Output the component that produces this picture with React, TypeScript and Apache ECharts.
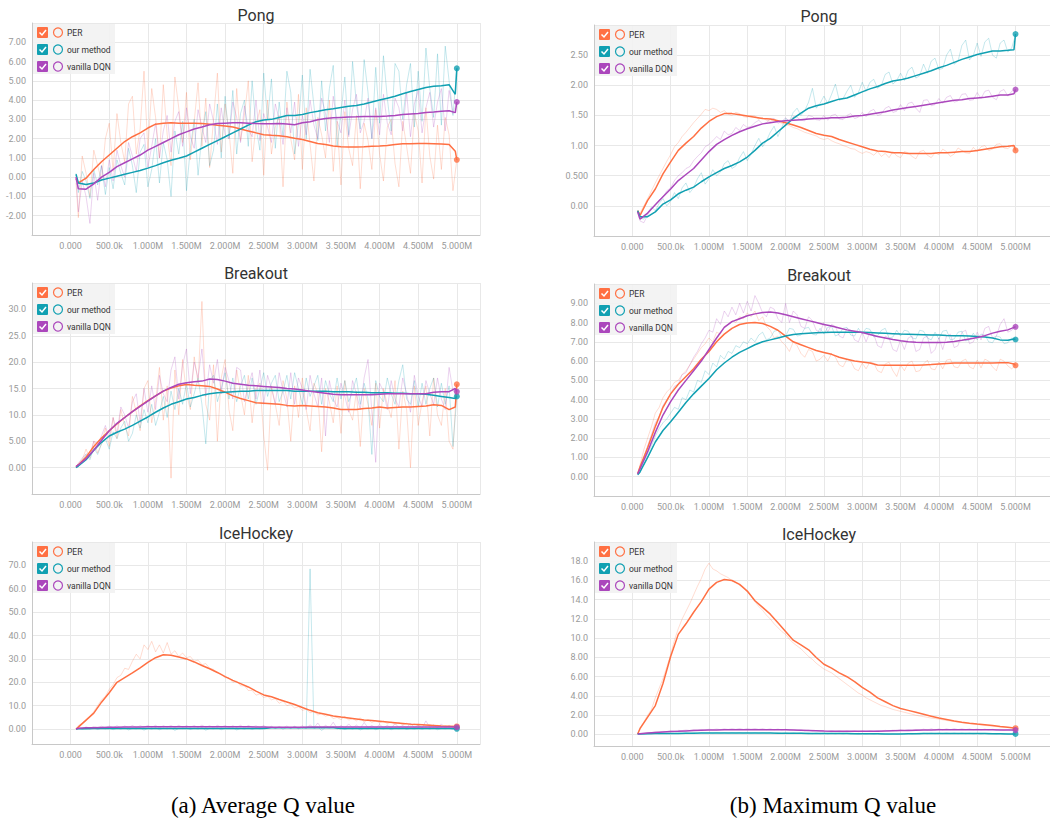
import React, { useEffect, useRef } from 'react';
import * as echarts from 'echarts';

const SERIES_NAMES = ['PER', 'our method', 'vanilla DQN'];
const COLORS = ['#ff7043', '#11a0b2', '#ab47bc'];

const X_TICKS = [0, 500000, 1000000, 1500000, 2000000, 2500000, 3000000, 3500000, 4000000, 4500000, 5000000];
const X_TICK_LABELS = ['0.000', '500.0k', '1.000M', '1.500M', '2.000M', '2.500M', '3.000M', '3.500M', '4.000M', '4.500M', '5.000M'];

const PONG_AVG_Y_TICKS = [-2, -1, 0, 1, 2, 3, 4, 5, 6, 7];
const PONG_AVG_Y_LABELS = ['-2.00', '-1.00', '0.00', '1.00', '2.00', '3.00', '4.00', '5.00', '6.00', '7.00'];
const PONG_MAX_Y_TICKS = [0, 0.5, 1, 1.5, 2, 2.5];
const PONG_MAX_Y_LABELS = ['0.00', '0.500', '1.00', '1.50', '2.00', '2.50'];
const BREAKOUT_AVG_Y_TICKS = [0, 5, 10, 15, 20, 25, 30];
const BREAKOUT_AVG_Y_LABELS = ['0.00', '5.00', '10.0', '15.0', '20.0', '25.0', '30.0'];
const BREAKOUT_MAX_Y_TICKS = [0, 1, 2, 3, 4, 5, 6, 7, 8, 9];
const BREAKOUT_MAX_Y_LABELS = ['0.00', '1.00', '2.00', '3.00', '4.00', '5.00', '6.00', '7.00', '8.00', '9.00'];
const ICE_AVG_Y_TICKS = [0, 10, 20, 30, 40, 50, 60, 70];
const ICE_AVG_Y_LABELS = ['0.00', '10.0', '20.0', '30.0', '40.0', '50.0', '60.0', '70.0'];
const ICE_MAX_Y_TICKS = [0, 2, 4, 6, 8, 10, 12, 14, 16, 18];
const ICE_MAX_Y_LABELS = ['0.00', '2.00', '4.00', '6.00', '8.00', '10.0', '12.0', '14.0', '16.0', '18.0'];

// training steps (thousands) of the smoothed curves
const SMOOTH_STEPS_K = [70,
  100, 200, 300, 400, 500, 600, 700, 800, 900, 1000,
  1100, 1200, 1300, 1400, 1500, 1600, 1700, 1800, 1900, 2000,
  2100, 2200, 2300, 2400, 2500, 2600, 2700, 2800, 2900, 3000,
  3100, 3200, 3300, 3400, 3500, 3600, 3700, 3800, 3900, 4000,
  4100, 4200, 4300, 4400, 4500, 4600, 4700, 4800, 4900, 4980, 5000];
// raw logging steps (thousands): 70, then every 50k from 100k to 5000k
const RAW_STEPS_K = [70].concat(Array.from({ length: 99 }, (_, i) => 100 + 50 * i));

// ---------- Pong, average Q ----------
const PONG_AVG_PER = [-0.1, -0.3, -0.05, 0.4, 0.8, 1.15, 1.5, 1.85, 2.1, 2.3, 2.55,
  2.75, 2.8, 2.82, 2.8, 2.8, 2.8, 2.78, 2.75, 2.7, 2.66,
  2.6, 2.5, 2.4, 2.3, 2.2, 2.17, 2.15, 2.1, 2.02, 1.95,
  1.85, 1.75, 1.7, 1.62, 1.58, 1.57, 1.57, 1.58, 1.6, 1.62,
  1.65, 1.7, 1.73, 1.74, 1.75, 1.75, 1.74, 1.72, 1.7, 1.35, 0.9];
const PONG_AVG_OURS = [0.15, -0.3, -0.38, -0.3, -0.15, -0.05, 0.05, 0.15, 0.25, 0.35, 0.47,
  0.6, 0.75, 0.88, 0.98, 1.1, 1.3, 1.5, 1.7, 1.9, 2.1,
  2.3, 2.5, 2.7, 2.88, 2.97, 3.0, 3.1, 3.2, 3.2, 3.25,
  3.35, 3.42, 3.5, 3.55, 3.62, 3.68, 3.72, 3.8, 3.9, 4.0,
  4.1, 4.2, 4.33, 4.45, 4.55, 4.65, 4.72, 4.75, 4.8, 4.3, 5.65];
const PONG_AVG_DQN = [0.0, -0.6, -0.62, -0.35, 0.0, 0.25, 0.55, 0.75, 0.95, 1.15, 1.4,
  1.6, 1.8, 2.0, 2.2, 2.35, 2.5, 2.6, 2.72, 2.78, 2.8,
  2.82, 2.82, 2.8, 2.78, 2.77, 2.77, 2.78, 2.76, 2.72, 2.82,
  2.88, 2.98, 3.05, 3.08, 3.1, 3.12, 3.13, 3.15, 3.15, 3.15,
  3.17, 3.2, 3.25, 3.28, 3.3, 3.35, 3.38, 3.42, 3.45, 3.35, 3.9];
const PONG_AVG_PER_RAW = [
  -0.3, -2.1, 1.1, 0.2, -1.0, 1.4, 0.6, -0.2, 2.0, 2.8,
  0.3, 3.3, 1.8, 0.8, 3.8, 4.2, 1.2, 2.5, 5.5, 1.4,
  4.6, 3.1, 1.0, 4.8, 2.2, 0.6, 5.2, 3.6, 1.8, 4.4,
  0.9, 2.9, 4.9, 1.6, 4.1, 0.5, 3.0, 5.4, 1.3, 3.8,
  2.4, 0.2, 4.6, 1.9, 3.2, 5.0, 0.8, 2.7, 3.5, 0.1,
  4.0, 1.2, 2.6, 3.2, -0.5, 3.9, 2.0, 0.9, 4.3, 0.4,
  3.6, 1.7, -0.2, 3.1, 2.2, 1.0, 4.0, 0.3, 2.9, -0.4,
  3.4, 1.5, 0.6, 3.2, -0.6, 2.8, 1.9, 0.4, 3.5, 1.2,
  -0.2, 2.6, 3.0, 0.7, -0.5, 2.9, 1.6, 0.2, 3.3, 2.4,
  -0.3, 3.6, 1.1, -0.1, 2.7, 0.4, 3.1, 2.2, -0.7, 0.9];
const PONG_AVG_OURS_RAW = [
  0.2, -0.8, 0.3, -0.2, -1.1, 0.4, -0.4, 0.6, -0.9, 0.5,
  -0.6, 0.9, 0.2, -0.4, 1.5, 0.6, -0.8, 1.3, 1.7, -0.5,
  0.4, 2.0, -0.3, 1.8, 0.9, -1.0, 2.4, 1.2, 2.9, -0.7,
  1.5, 3.0, 0.1, 2.2, 3.4, 0.6, 1.4, 3.8, 1.0, 4.2,
  2.0, 4.5, 1.2, 3.3, 4.0, 1.6, 5.0, 2.6, 1.4, 5.4,
  3.0, 5.1, 1.5, 3.9, 2.1, 5.5, 4.4, 1.2, 2.8, 5.3,
  2.0, 5.6, 3.7, 1.9, 5.0, 2.4, 4.6, 5.8, 1.6, 3.3,
  5.2, 2.2, 6.0, 3.8, 2.5, 6.1, 4.4, 2.0, 5.7, 2.8,
  6.3, 4.1, 2.4, 5.9, 5.5, 3.0, 4.8, 5.9, 2.6, 5.5,
  2.9, 6.7, 4.6, 3.1, 6.4, 2.7, 6.8, 5.0, 3.2, 5.65];
const PONG_AVG_DQN_RAW = [
  0.0, -1.8, -0.2, -1.0, -2.4, 0.2, -1.2, 0.6, -0.5, 0.9,
  -0.2, 1.4, 0.6, 0.0, 1.8, 1.1, 0.3, 2.0, 2.3, 0.5,
  1.6, 2.8, 1.0, 2.4, 3.2, 1.3, 2.9, 3.4, 1.6, 3.6,
  2.1, 1.5, 3.5, 2.6, 1.8, 3.8, 2.9, 1.7, 3.6, 2.2,
  2.0, 3.9, 3.1, 1.8, 3.7, 2.5, 2.1, 4.0, 1.9, 3.3,
  2.6, 1.8, 3.8, 3.0, 1.7, 3.6, 2.3, 3.9, 1.6, 3.2,
  2.2, 4.0, 2.7, 2.0, 4.1, 3.3, 1.8, 4.2, 2.9, 2.3,
  4.0, 2.1, 3.5, 4.3, 2.3, 2.9, 4.1, 2.0, 3.6, 2.2,
  4.3, 2.8, 2.2, 4.1, 3.6, 2.4, 4.4, 2.1, 3.8, 4.5,
  2.3, 3.6, 4.4, 2.6, 3.9, 4.6, 2.4, 4.5, 3.3, 3.9];

// ---------- Pong, maximum Q ----------
const PONG_MAX_PER = [-0.08, -0.16, 0.09, 0.28, 0.53, 0.73, 0.92, 1.04, 1.15, 1.29, 1.4,
  1.48, 1.53, 1.53, 1.51, 1.49, 1.47, 1.45, 1.44, 1.41, 1.38,
  1.34, 1.3, 1.25, 1.2, 1.17, 1.15, 1.1, 1.06, 1.02, 0.98,
  0.94, 0.91, 0.9, 0.88, 0.88, 0.87, 0.87, 0.87, 0.87, 0.88,
  0.88, 0.89, 0.9, 0.9, 0.92, 0.94, 0.96, 0.98, 0.99, 1.0, 0.92];
const PONG_MAX_OURS = [-0.08, -0.18, -0.18, -0.1, 0.03, 0.1, 0.2, 0.26, 0.31, 0.4, 0.48,
  0.55, 0.62, 0.67, 0.73, 0.81, 0.92, 1.04, 1.12, 1.23, 1.34,
  1.45, 1.54, 1.62, 1.66, 1.69, 1.73, 1.77, 1.79, 1.84, 1.89,
  1.94, 1.98, 2.03, 2.07, 2.09, 2.12, 2.16, 2.2, 2.24, 2.29,
  2.33, 2.38, 2.43, 2.47, 2.51, 2.54, 2.57, 2.57, 2.58, 2.59, 2.85];
const PONG_MAX_DQN = [-0.1, -0.22, -0.12, 0.02, 0.15, 0.28, 0.42, 0.52, 0.62, 0.76, 0.9,
  1.02, 1.1, 1.17, 1.23, 1.28, 1.32, 1.36, 1.38, 1.4, 1.41,
  1.42, 1.43, 1.44, 1.45, 1.45, 1.46, 1.46, 1.47, 1.49, 1.5,
  1.52, 1.54, 1.56, 1.59, 1.61, 1.63, 1.65, 1.67, 1.69, 1.71,
  1.73, 1.75, 1.76, 1.78, 1.79, 1.8, 1.82, 1.84, 1.84, 1.86, 1.93];
const PONG_MAX_PER_RAW = [
  -0.08, -0.12, 0.0, 0.12, 0.25, 0.38, 0.5, 0.62, 0.74, 0.85,
  0.98, 1.05, 1.15, 1.22, 1.3, 1.38, 1.45, 1.52, 1.6, 1.58,
  1.62, 1.6, 1.55, 1.58, 1.52, 1.5, 1.55, 1.53, 1.48, 1.47,
  1.5, 1.49, 1.44, 1.46, 1.42, 1.4, 1.44, 1.4, 1.37, 1.35,
  1.33, 1.3, 1.28, 1.25, 1.22, 1.2, 1.18, 1.16, 1.12, 1.1,
  1.12, 1.08, 1.05, 1.03, 1.0, 0.98, 0.95, 0.94, 0.9, 0.87,
  0.9, 0.88, 0.84, 0.9, 0.82, 0.87, 0.8, 0.9, 0.83, 0.8,
  0.9, 0.88, 0.82, 0.78, 0.9, 0.92, 0.84, 0.8, 0.88, 0.85,
  0.94, 0.9, 0.82, 0.86, 0.96, 0.92, 0.88, 0.87, 0.97, 0.9,
  0.98, 1.0, 0.92, 0.94, 1.02, 1.03, 0.96, 0.95, 1.0, 0.92];
const PONG_MAX_OURS_RAW = [
  -0.08, -0.2, -0.22, -0.12, -0.02, -0.08, 0.04, 0.12, 0.0, 0.08,
  0.22, 0.12, 0.3, 0.38, 0.22, 0.3, 0.45, 0.55, 0.36, 0.45,
  0.6, 0.5, 0.56, 0.7, 0.75, 0.62, 0.66, 0.8, 0.9, 0.75,
  0.86, 1.0, 1.12, 0.98, 1.08, 1.22, 1.32, 1.15, 1.3, 1.45,
  1.4, 1.55, 1.62, 1.5, 1.58, 1.72, 1.95, 1.62, 1.7, 1.82,
  1.7, 1.85, 2.02, 1.75, 1.78, 1.9, 2.0, 1.8, 1.88, 2.05,
  1.9, 2.05, 2.1, 1.95, 2.0, 2.18, 2.22, 2.02, 2.08, 2.2,
  2.08, 2.25, 2.3, 2.12, 2.16, 2.35, 2.2, 2.4, 2.45, 2.26,
  2.28, 2.5, 2.6, 2.35, 2.4, 2.66, 2.75, 2.42, 2.5, 2.7,
  2.48, 2.72, 2.78, 2.5, 2.45, 2.7, 2.75, 2.55, 2.62, 2.83];
const PONG_MAX_DQN_RAW = [
  -0.1, -0.25, -0.28, -0.15, -0.05, 0.02, 0.1, 0.15, 0.25, 0.3,
  0.42, 0.5, 0.55, 0.62, 0.65, 0.75, 0.82, 0.88, 0.98, 1.02,
  1.08, 1.15, 1.1, 1.24, 1.18, 1.2, 1.3, 1.25, 1.35, 1.3,
  1.32, 1.38, 1.42, 1.36, 1.38, 1.44, 1.45, 1.37, 1.4, 1.46,
  1.4, 1.48, 1.47, 1.42, 1.41, 1.5, 1.48, 1.43, 1.42, 1.5,
  1.42, 1.5, 1.52, 1.44, 1.43, 1.5, 1.53, 1.45, 1.47, 1.55,
  1.48, 1.57, 1.6, 1.5, 1.52, 1.62, 1.65, 1.55, 1.57, 1.68,
  1.58, 1.7, 1.72, 1.62, 1.55, 1.75, 1.76, 1.66, 1.68, 1.78,
  1.7, 1.8, 1.83, 1.72, 1.74, 1.85, 1.86, 1.75, 1.76, 1.88,
  1.78, 1.9, 1.92, 1.8, 1.76, 1.9, 1.93, 1.82, 1.9, 1.93];

// ---------- Breakout, average Q ----------
const BREAKOUT_AVG_PER = [0.2, 0.5, 2.0, 4.0, 5.6, 7.0, 8.3, 9.5, 10.6, 11.7, 12.7,
  13.6, 14.5, 15.1, 15.5, 15.75, 15.6, 15.5, 15.4, 14.9, 14.3,
  13.6, 13.1, 12.7, 12.3, 12.2, 12.1, 12.0, 11.8, 11.7, 11.8,
  11.7, 11.6, 11.5, 11.3, 11.0, 11.0, 11.0, 11.2, 11.3, 11.5,
  11.3, 11.4, 11.5, 11.5, 11.6, 11.7, 11.9, 11.8, 11.0, 11.5, 15.8];
const BREAKOUT_AVG_OURS = [0.0, 0.3, 1.5, 3.3, 4.8, 6.0, 6.7, 7.3, 8.0, 8.8, 9.6,
  10.5, 11.3, 12.0, 12.5, 13.0, 13.3, 13.7, 14.0, 14.2, 14.3,
  14.4, 14.5, 14.5, 14.6, 14.6, 14.6, 14.6, 14.6, 14.5, 14.5,
  14.5, 14.5, 14.5, 14.4, 14.4, 14.4, 14.3, 14.3, 14.2, 14.2,
  14.2, 14.1, 14.1, 14.0, 14.0, 13.9, 13.7, 13.5, 13.3, 13.1, 13.5];
const BREAKOUT_AVG_DQN = [0.2, 0.5, 1.7, 3.3, 5.2, 7.0, 8.4, 9.5, 10.6, 11.6, 12.6,
  13.6, 14.5, 15.2, 15.8, 16.1, 16.3, 16.4, 16.8, 16.7, 16.4,
  16.0, 15.8, 15.6, 15.5, 15.4, 15.3, 15.2, 15.0, 14.9, 14.7,
  14.5, 14.3, 14.1, 13.9, 13.8, 13.8, 13.8, 13.8, 13.8, 13.9,
  14.0, 14.0, 14.0, 14.0, 14.0, 14.0, 14.3, 14.4, 14.4, 15.0, 14.4];
const BREAKOUT_AVG_PER_RAW = [
  0.2, 0.8, 1.5, 3.5, 1.8, 5.0, 2.8, 4.5, 7.5, 4.0,
  9.5, 5.5, 11.0, 8.0, 6.0, 13.5, 10.5, 7.0, 15.0, 16.5,
  8.5, 12.5, 19.0, 9.0, 15.5, -2.0, 18.5, 10.0, 20.5, 14.0,
  11.0, 21.0, 16.0, 31.5, 12.0, 9.0, 19.5, 5.0, 17.0, 20.5,
  11.0, 7.0, 18.5, 14.0, 10.0, 17.5, 8.5, 15.0, 16.0, 6.0,
  -0.5, 15.5, 12.0, 8.0, 16.5, 13.0, 5.0, 15.5, 9.5, 17.0,
  11.0, 7.0, 16.0, 14.0, 3.0, 15.0, 12.5, 8.5, 15.5, 6.5,
  16.5, 11.0, 9.0, 14.5, 4.0, 15.0, 12.0, 8.0, 16.0, 7.5,
  15.0, 12.0, 9.5, 16.5, 3.5, 14.5, 11.0, 0.0, 15.5, 8.0,
  12.5, 15.5, 6.0, 17.0, 10.0, 8.0, 15.0, 5.0, 3.5, 15.8];
const BREAKOUT_AVG_OURS_RAW = [
  0.0, 0.5, 1.2, 2.5, 1.5, 3.8, 2.5, 4.5, 5.5, 3.5,
  6.8, 5.5, 7.5, 8.8, 5.0, 6.5, 10.0, 7.5, 11.0, 8.5,
  12.0, 8.0, 10.5, 13.5, 9.5, 14.5, 11.0, 15.0, 12.0, 16.0,
  11.5, 14.0, 17.0, 12.0, 4.5, 16.5, 17.5, 12.5, 15.0, 18.0,
  13.0, 17.0, 12.5, 15.5, 17.5, 13.0, 17.0, 12.0, 15.0, 18.0,
  13.5, 16.0, 17.5, 12.5, 14.5, 17.5, 13.0, 18.0, 15.0, 12.0,
  17.0, 13.5, 15.5, 17.5, 12.0, 16.5, 14.0, 12.5, 17.0, 13.0,
  16.5, 12.5, 14.5, 17.0, 12.0, 16.0, 13.0, 2.5, 16.5, 13.5,
  12.5, 17.0, 14.0, 12.0, 16.5, 19.5, 13.0, 12.0, 16.5, 11.5,
  16.0, 12.0, 15.0, 17.0, 11.5, 16.0, 12.0, 15.5, 4.0, 13.5];
const BREAKOUT_AVG_DQN_RAW = [
  0.2, 0.8, 1.8, 2.6, 2.5, 5.0, 4.5, 6.0, 8.0, 5.5,
  9.5, 6.5, 11.5, 10.0, 7.5, 12.5, 14.0, 8.5, 15.0, 10.5,
  15.5, 11.0, 17.5, 14.0, 12.5, 18.5, 21.0, 13.0, 19.5, 22.5,
  14.0, 20.0, 17.0, 22.5, 13.5, 19.5, 16.0, 20.5, 14.0, 19.0,
  16.5, 13.0, 19.0, 18.5, 12.5, 15.5, 18.0, 13.0, 18.5, 12.0,
  17.5, 15.0, 12.0, 18.0, 14.5, 11.5, 18.0, 12.0, 17.0, 15.0,
  11.0, 17.5, 14.0, 11.5, 17.0, 6.0, 16.5, 13.0, 11.5, 16.0,
  13.5, 10.5, 16.5, 14.0, 11.0, 17.0, 20.5, 10.5, 1.0, 16.0,
  14.5, 11.0, 16.5, 13.0, 11.5, 17.0, 14.0, 10.5, 17.5, 13.5,
  11.5, 16.5, 14.0, 12.0, 17.0, 13.0, 11.0, 19.0, 14.5, 14.4];

// ---------- Breakout, maximum Q ----------
const BREAKOUT_MAX_PER = [0.15, 0.5, 1.5, 2.6, 3.6, 4.3, 4.8, 5.2, 5.6, 6.1, 6.5,
  7.0, 7.4, 7.7, 7.9, 7.98, 8.0, 7.95, 7.8, 7.6, 7.3,
  7.0, 6.85, 6.7, 6.55, 6.45, 6.35, 6.2, 6.1, 6.0, 5.95,
  5.9, 5.8, 5.78, 5.78, 5.78, 5.78, 5.78, 5.8, 5.82, 5.85,
  5.88, 5.9, 5.9, 5.9, 5.9, 5.9, 5.9, 5.92, 5.92, 5.85, 5.78];
const BREAKOUT_MAX_OURS = [0.1, 0.25, 1.0, 1.8, 2.4, 2.85, 3.35, 3.85, 4.3, 4.7, 5.1,
  5.55, 5.9, 6.2, 6.45, 6.65, 6.85, 7.0, 7.1, 7.2, 7.3,
  7.38, 7.42, 7.45, 7.47, 7.48, 7.49, 7.5, 7.5, 7.5, 7.5,
  7.48, 7.46, 7.44, 7.42, 7.4, 7.39, 7.38, 7.37, 7.36, 7.35,
  7.33, 7.32, 7.31, 7.3, 7.28, 7.25, 7.2, 7.1, 7.08, 7.15, 7.12];
const BREAKOUT_MAX_DQN = [0.15, 0.4, 1.3, 2.3, 3.2, 3.9, 4.5, 5.0, 5.5, 6.0, 6.6,
  7.2, 7.75, 8.05, 8.2, 8.35, 8.45, 8.52, 8.55, 8.5, 8.4,
  8.3, 8.2, 8.1, 8.0, 7.9, 7.82, 7.72, 7.62, 7.55, 7.48,
  7.38, 7.28, 7.2, 7.12, 7.05, 7.0, 6.98, 6.97, 6.96, 6.96,
  6.98, 7.02, 7.08, 7.15, 7.22, 7.32, 7.45, 7.55, 7.62, 7.75, 7.78];
const BREAKOUT_MAX_PER_RAW = [
  0.15, 0.6, 1.4, 2.0, 2.6, 3.3, 3.6, 4.1, 4.4, 4.6,
  4.9, 5.0, 5.3, 5.5, 5.8, 6.1, 6.4, 6.7, 6.9, 7.2,
  7.0, 7.5, 7.4, 7.8, 7.9, 8.1, 8.0, 8.3, 8.2, 8.5,
  8.3, 8.6, 8.1, 8.3, 7.8, 7.6, 7.2, 7.3, 7.0, 6.8,
  6.5, 7.0, 6.8, 6.4, 6.2, 6.6, 6.5, 6.0, 6.1, 6.3,
  6.0, 6.4, 6.2, 5.8, 5.7, 6.1, 6.0, 5.6, 5.5, 5.9,
  5.6, 5.95, 5.9, 5.5, 5.4, 5.85, 5.95, 5.5, 5.2, 5.8,
  5.5, 5.9, 6.0, 5.45, 5.5, 5.85, 6.05, 5.6, 5.55, 5.95,
  5.6, 6.05, 6.1, 5.7, 5.65, 6.0, 6.1, 5.7, 5.6, 6.05,
  5.65, 6.1, 6.0, 5.7, 5.5, 6.1, 6.0, 5.75, 5.6, 5.78];
const BREAKOUT_MAX_OURS_RAW = [
  0.1, 0.2, 0.8, 1.2, 1.6, 2.1, 2.5, 2.8, 3.0, 3.3,
  3.6, 3.5, 4.1, 4.0, 4.5, 4.4, 5.0, 4.9, 5.5, 5.3,
  5.9, 5.7, 6.3, 6.1, 6.5, 6.4, 6.8, 6.7, 7.0, 6.9,
  7.2, 7.0, 7.35, 7.5, 7.1, 7.2, 7.55, 7.6, 7.25, 7.3,
  7.7, 7.65, 7.3, 7.35, 7.7, 7.75, 7.4, 7.35, 7.7, 7.4,
  7.75, 7.8, 7.3, 7.4, 7.7, 7.75, 7.35, 7.3, 7.7, 7.4,
  7.7, 7.65, 7.25, 7.3, 7.6, 7.7, 7.2, 7.25, 7.6, 7.3,
  7.6, 7.55, 7.2, 7.15, 7.6, 7.55, 7.2, 7.1, 7.5, 7.15,
  7.55, 7.6, 7.1, 7.15, 7.5, 7.55, 7.05, 7.1, 7.45, 7.1,
  7.4, 7.35, 7.0, 6.95, 7.3, 7.25, 6.9, 6.95, 7.2, 7.12];
const BREAKOUT_MAX_DQN_RAW = [
  0.15, 0.5, 1.0, 1.6, 2.2, 2.8, 3.1, 3.7, 4.0, 4.3,
  4.7, 4.8, 5.3, 5.4, 5.8, 6.2, 6.5, 6.9, 7.2, 7.6,
  7.5, 8.2, 7.9, 8.6, 8.3, 8.8, 8.4, 9.0, 8.5, 9.1,
  8.6, 9.4, 9.0, 8.5, 8.3, 8.8, 8.7, 8.2, 8.0, 9.0,
  8.0, 8.6, 8.4, 7.8, 7.7, 8.3, 8.1, 7.6, 7.5, 8.0,
  7.5, 7.9, 7.8, 7.3, 7.2, 7.7, 7.6, 7.1, 7.0, 7.5,
  7.0, 7.5, 7.4, 6.8, 6.7, 7.3, 7.2, 6.6, 6.5, 7.1,
  6.6, 7.2, 7.3, 6.5, 6.6, 7.2, 7.3, 6.4, 6.6, 7.2,
  6.6, 7.3, 7.4, 6.7, 6.8, 7.5, 7.6, 6.9, 7.0, 7.5,
  7.1, 7.7, 7.8, 7.2, 7.3, 7.9, 8.2, 7.5, 7.6, 7.78];

// ---------- IceHockey, average Q ----------
const ICE_AVG_PER = [0, 0.8, 3.8, 6.8, 11.5, 15.5, 20.0, 22.0, 24.0, 26.2, 28.5,
  30.5, 31.8, 31.6, 30.8, 30.0, 28.7, 27.2, 25.8, 24.2, 22.4,
  20.8, 19.4, 18.0, 16.2, 14.6, 13.8, 12.6, 11.6, 10.5, 9.2,
  8.0, 7.0, 6.3, 5.6, 5.1, 4.7, 4.3, 3.9, 3.6, 3.3,
  3.0, 2.7, 2.4, 2.1, 1.9, 1.7, 1.5, 1.3, 1.2, 1.1, 1.1];
const ICE_AVG_OURS = [0, 0.1, 0.15, 0.2, 0.2, 0.2, 0.22, 0.22, 0.22, 0.22, 0.22,
  0.22, 0.22, 0.22, 0.22, 0.22, 0.22, 0.22, 0.22, 0.22, 0.22,
  0.22, 0.22, 0.22, 0.22, 0.25, 0.5, 0.5, 0.5, 0.5, 0.5,
  0.5, 0.5, 0.5, 0.5, 0.2, 0.2, 0.2, 0.2, 0.2, 0.2,
  0.2, 0.2, 0.2, 0.2, 0.2, 0.2, 0.2, 0.2, 0.2, 0.15, 0.1];
const ICE_AVG_DQN = [0, 0.3, 0.5, 0.6, 0.7, 0.75, 0.8, 0.85, 0.9, 0.9, 0.95,
  0.95, 1.0, 1.0, 1.0, 1.0, 1.0, 1.0, 1.0, 1.0, 1.0,
  1.0, 0.95, 0.95, 0.9, 0.9, 0.8, 0.75, 0.75, 0.75, 0.8,
  0.85, 0.85, 0.9, 0.9, 0.9, 0.9, 0.9, 0.9, 0.9, 0.9,
  0.9, 0.9, 0.9, 0.9, 0.9, 0.9, 0.9, 0.9, 0.9, 0.9, 0.8];
const ICE_AVG_PER_RAW = [
  0, 1.5, 2.5, 4.0, 5.5, 7.5, 10.0, 12.5, 14.0, 17.0,
  19.0, 22.0, 23.0, 26.0, 25.5, 29.0, 32.0, 30.0, 36.0, 34.0,
  37.5, 33.0, 36.0, 32.5, 37.0, 32.0, 33.5, 31.0, 32.5, 30.5,
  31.0, 29.0, 29.5, 27.5, 28.0, 26.0, 25.5, 24.0, 23.5, 22.0,
  22.0, 20.0, 20.5, 18.5, 18.5, 16.5, 16.5, 14.5, 15.0, 13.5,
  14.0, 12.5, 13.0, 11.0, 12.0, 10.0, 10.5, 9.0, 9.5, 8.0,
  8.5, 7.0, 7.5, 6.0, 6.5, 5.5, 6.0, 4.5, 5.0, 4.0,
  5.5, 3.8, 4.5, 3.5, 4.8, 3.0, 4.0, 2.8, 3.6, 2.6,
  3.4, 2.3, 3.0, 2.0, 2.8, 1.8, 2.5, 1.6, 2.2, 1.5,
  2.0, 1.3, 1.8, 1.2, 1.6, 1.0, 1.5, 0.9, 1.3, 1.1];
const ICE_AVG_OURS_RAW = [
  0, 0.3, -0.1, 0.4, 0.0, 0.5, -0.2, 0.4, 0.1, 0.5,
  -0.3, 0.4, 0.0, 0.6, -0.4, 0.3, 0.1, 0.5, -0.5, 0.4,
  0.0, 0.6, -0.3, 0.4, 0.1, 0.5, -0.6, 0.3, 0.2, 0.5,
  -0.2, 0.4, 0.0, 0.6, -0.5, 0.3, 0.1, 0.5, -0.3, 0.4,
  0.2, 0.6, -0.4, 0.3, 0.0, 0.5, -0.2, 0.4, 0.1, 0.6,
  0.3, 0.9, 0.2, 0.8, -0.1, 0.7, 0.4, 1.0, 0.1, 0.8,
  0.3, 68.5, 0.2, 0.9, -0.6, 0.7, 0.4, 1.0, 0.0, 0.5,
  -0.2, 0.4, 0.0, 0.5, -0.4, 0.3, 0.1, 0.6, -0.3, 0.4,
  0.0, 0.5, -0.3, 0.4, 0.1, 0.6, -0.2, 0.3, 0.0, 0.5,
  -0.1, 0.4, 0.0, 0.5, -0.3, 0.3, 0.1, 0.4, 0.0, 0.1];
const ICE_AVG_DQN_RAW = [
  0, 0.5, 0.2, 0.9, 0.4, 1.1, 0.6, 1.2, 0.5, 1.3,
  0.6, 1.4, 0.5, 1.3, 0.7, 1.5, 0.6, 1.4, 0.8, 1.5,
  0.7, 1.6, 0.5, 1.4, 0.8, 1.5, 0.6, 1.6, 0.7, 1.4,
  0.8, 1.5, 0.6, 1.7, 0.7, 1.4, 0.5, 1.6, 0.8, 1.5,
  0.6, 1.4, 0.7, 1.6, 0.5, 1.5, 0.8, 1.4, 0.6, 1.5,
  0.4, 1.2, 0.3, 1.1, 0.5, 1.3, 0.2, 1.2, 0.4, 1.4,
  0.3, 1.8, 0.5, 2.6, 0.2, 1.6, 0.6, 2.9, 0.3, 1.5,
  0.4, 2.2, 0.5, 1.7, 0.3, 2.8, 0.6, 1.5, 0.4, 2.0,
  0.5, 1.6, 0.3, 2.4, 0.6, 1.5, 0.4, 2.6, 0.5, 1.7,
  0.4, 3.5, 0.6, 1.8, 0.5, 2.2, 0.4, 1.6, 0.6, 0.9];

// ---------- IceHockey, maximum Q ----------
const ICE_MAX_PER = [0.05, 0.6, 1.8, 3.0, 5.3, 8.1, 10.4, 11.5, 12.7, 13.8, 15.1,
  15.8, 16.1, 16.0, 15.6, 14.9, 13.9, 13.2, 12.5, 11.6, 10.7,
  9.8, 9.3, 8.8, 8.0, 7.3, 6.9, 6.4, 6.0, 5.5, 4.9,
  4.4, 3.8, 3.4, 3.0, 2.7, 2.5, 2.3, 2.1, 1.9, 1.7,
  1.55, 1.4, 1.27, 1.17, 1.08, 1.0, 0.92, 0.83, 0.75, 0.68, 0.65];
const ICE_MAX_OURS = [0.05, 0.06, 0.08, 0.09, 0.1, 0.1, 0.11, 0.12, 0.13, 0.14, 0.15,
  0.15, 0.15, 0.15, 0.15, 0.15, 0.15, 0.14, 0.14, 0.13, 0.13,
  0.12, 0.12, 0.11, 0.11, 0.1, 0.1, 0.09, 0.09, 0.08, 0.08,
  0.07, 0.07, 0.06, 0.06, 0.06, 0.07, 0.08, 0.09, 0.1, 0.1,
  0.11, 0.11, 0.11, 0.1, 0.1, 0.09, 0.08, 0.07, 0.06, 0.05, 0.05];
const ICE_MAX_DQN = [0.05, 0.08, 0.15, 0.2, 0.25, 0.3, 0.33, 0.37, 0.4, 0.43, 0.45,
  0.47, 0.48, 0.49, 0.5, 0.5, 0.5, 0.5, 0.5, 0.49, 0.48,
  0.46, 0.44, 0.41, 0.38, 0.35, 0.34, 0.33, 0.32, 0.32, 0.32,
  0.33, 0.34, 0.36, 0.38, 0.4, 0.42, 0.44, 0.46, 0.47, 0.48,
  0.49, 0.5, 0.5, 0.5, 0.5, 0.49, 0.48, 0.47, 0.46, 0.45, 0.45];
const ICE_MAX_PER_RAW = [
  0.05, 0.7, 1.3, 2.0, 2.6, 3.8, 4.8, 5.8, 7.0, 8.3,
  9.8, 11.0, 12.0, 12.8, 13.6, 14.5, 15.4, 16.2, 17.2, 17.8,
  17.2, 17.0, 16.7, 16.5, 16.3, 16.0, 15.8, 15.5, 15.3, 14.8,
  14.4, 13.8, 13.3, 12.9, 12.4, 12.0, 11.5, 11.1, 10.7, 10.4,
  9.9, 9.5, 9.2, 8.9, 8.5, 8.1, 7.8, 7.4, 7.1, 6.8,
  6.6, 6.4, 6.1, 5.8, 5.5, 5.2, 4.9, 4.6, 4.3, 4.1,
  3.8, 3.6, 3.4, 3.2, 3.0, 2.9, 2.75, 2.6, 2.5, 2.4,
  2.3, 2.2, 2.1, 2.0, 1.92, 1.85, 1.78, 1.7, 1.65, 1.6,
  1.52, 1.45, 1.4, 1.33, 1.28, 1.22, 1.17, 1.12, 1.08, 1.03,
  0.98, 0.94, 0.9, 0.86, 0.82, 0.78, 0.75, 0.72, 0.7, 0.65];
const ICE_MAX_OURS_RAW = [
  0.05, 0.08, 0.05, 0.1, 0.07, 0.12, 0.08, 0.13, 0.09, 0.12,
  0.1, 0.15, 0.11, 0.16, 0.12, 0.17, 0.12, 0.18, 0.13, 0.17,
  0.12, 0.18, 0.13, 0.19, 0.12, 0.18, 0.13, 0.19, 0.12, 0.18,
  0.12, 0.17, 0.11, 0.17, 0.12, 0.16, 0.11, 0.16, 0.1, 0.16,
  0.1, 0.15, 0.09, 0.15, 0.1, 0.14, 0.08, 0.14, 0.08, 0.13,
  0.07, 0.12, 0.07, 0.12, 0.06, 0.11, 0.06, 0.1, 0.05, 0.1,
  0.05, 0.09, 0.04, 0.09, 0.04, 0.08, 0.03, 0.08, 0.04, 0.09,
  0.05, 0.1, 0.06, 0.11, 0.07, 0.12, 0.08, 0.13, 0.08, 0.13,
  0.09, 0.14, 0.09, 0.14, 0.08, 0.13, 0.08, 0.12, 0.07, 0.11,
  0.06, 0.1, 0.05, 0.09, 0.05, 0.08, 0.04, 0.07, 0.04, 0.05];
const ICE_MAX_DQN_RAW = [
  0.05, 0.1, 0.12, 0.2, 0.18, 0.27, 0.25, 0.32, 0.3, 0.36,
  0.36, 0.42, 0.4, 0.46, 0.42, 0.5, 0.45, 0.52, 0.47, 0.54,
  0.5, 0.56, 0.5, 0.58, 0.52, 0.6, 0.53, 0.62, 0.52, 0.6,
  0.55, 0.62, 0.53, 0.6, 0.5, 0.58, 0.48, 0.56, 0.46, 0.54,
  0.44, 0.5, 0.42, 0.47, 0.38, 0.44, 0.35, 0.41, 0.33, 0.38,
  0.31, 0.37, 0.3, 0.36, 0.29, 0.35, 0.3, 0.36, 0.29, 0.36,
  0.31, 0.38, 0.33, 0.41, 0.35, 0.43, 0.37, 0.45, 0.39, 0.47,
  0.41, 0.5, 0.43, 0.52, 0.45, 0.55, 0.46, 0.58, 0.47, 0.57,
  0.48, 0.58, 0.49, 0.6, 0.5, 0.58, 0.5, 0.57, 0.49, 0.56,
  0.48, 0.55, 0.47, 0.54, 0.46, 0.53, 0.45, 0.52, 0.45, 0.45];

const PANELS = [
  { title: 'Pong', left: 32, top: 23, width: 448, height: 212, xMax: 5300000, yMin: -3, yMax: 8, yStep: 1,
    yTicks: PONG_AVG_Y_TICKS, yLabels: PONG_AVG_Y_LABELS, titleX: 256, titleY: 15,
    smooth: [PONG_AVG_PER, PONG_AVG_OURS, PONG_AVG_DQN], raw: [PONG_AVG_PER_RAW, PONG_AVG_OURS_RAW, PONG_AVG_DQN_RAW] },
  { title: 'Pong', left: 594, top: 25, width: 456, height: 211, xMax: 5450000, yMin: -0.5, yMax: 3, yStep: 0.5,
    yTicks: PONG_MAX_Y_TICKS, yLabels: PONG_MAX_Y_LABELS, titleX: 819, titleY: 16,
    smooth: [PONG_MAX_PER, PONG_MAX_OURS, PONG_MAX_DQN], raw: [PONG_MAX_PER_RAW, PONG_MAX_OURS_RAW, PONG_MAX_DQN_RAW] },
  { title: 'Breakout', left: 32, top: 283, width: 448, height: 211, xMax: 5300000, yMin: -5, yMax: 35, yStep: 5,
    yTicks: BREAKOUT_AVG_Y_TICKS, yLabels: BREAKOUT_AVG_Y_LABELS, titleX: 256, titleY: 273,
    smooth: [BREAKOUT_AVG_PER, BREAKOUT_AVG_OURS, BREAKOUT_AVG_DQN], raw: [BREAKOUT_AVG_PER_RAW, BREAKOUT_AVG_OURS_RAW, BREAKOUT_AVG_DQN_RAW] },
  { title: 'Breakout', left: 594, top: 284, width: 456, height: 212, xMax: 5450000, yMin: -1, yMax: 10, yStep: 1,
    yTicks: BREAKOUT_MAX_Y_TICKS, yLabels: BREAKOUT_MAX_Y_LABELS, titleX: 819, titleY: 275,
    smooth: [BREAKOUT_MAX_PER, BREAKOUT_MAX_OURS, BREAKOUT_MAX_DQN], raw: [BREAKOUT_MAX_PER_RAW, BREAKOUT_MAX_OURS_RAW, BREAKOUT_MAX_DQN_RAW] },
  { title: 'IceHockey', left: 32, top: 542, width: 448, height: 202, xMax: 5300000, yMin: -6.4, yMax: 80, yStep: 10,
    yTicks: ICE_AVG_Y_TICKS, yLabels: ICE_AVG_Y_LABELS, titleX: 256, titleY: 533,
    smooth: [ICE_AVG_PER, ICE_AVG_OURS, ICE_AVG_DQN], raw: [ICE_AVG_PER_RAW, ICE_AVG_OURS_RAW, ICE_AVG_DQN_RAW] },
  { title: 'IceHockey', left: 594, top: 542, width: 456, height: 204, xMax: 5450000, yMin: -1.2, yMax: 20, yStep: 2,
    yTicks: ICE_MAX_Y_TICKS, yLabels: ICE_MAX_Y_LABELS, titleX: 819, titleY: 534,
    smooth: [ICE_MAX_PER, ICE_MAX_OURS, ICE_MAX_DQN], raw: [ICE_MAX_PER_RAW, ICE_MAX_OURS_RAW, ICE_MAX_DQN_RAW] },
];

const CAPTIONS = [
  { text: '(a) Average Q value', x: 263, y: 805 },
  { text: '(b) Maximum Q value', x: 833, y: 805 },
];

const makeFormatter = (ticks: number[], labels: string[]) => (v: number) => {
  for (let i = 0; i < ticks.length; i++) {
    if (Math.abs(ticks[i] - v) < 1e-6 * (Math.abs(ticks[i]) + 1)) return labels[i];
  }
  return '';
};

const LABEL_STYLE = { color: '#9a9a9a', fontSize: 9, fontFamily: 'Roboto' };

function buildOption() {
  const grid: any[] = [];
  const xAxis: any[] = [];
  const yAxis: any[] = [];
  const series: any[] = [];
  const graphic: any[] = [];

  PANELS.forEach((p, pi) => {
    grid.push({ left: p.left, top: p.top, width: p.width, height: p.height, containLabel: false });
    xAxis.push({
      type: 'value', gridIndex: pi, min: -500000, max: p.xMax, minInterval: 500000, maxInterval: 500000, splitNumber: 12,
      axisLine: { show: true, onZero: false, lineStyle: { color: '#c8c8c8', width: 1 } },
      axisTick: { show: false },
      axisLabel: { ...LABEL_STYLE, margin: 6, showMinLabel: false, showMaxLabel: false, formatter: makeFormatter(X_TICKS, X_TICK_LABELS) },
      splitLine: { show: true, lineStyle: { color: '#e8e8e8', width: 1 } },
    });
    yAxis.push({
      type: 'value', gridIndex: pi, min: p.yMin, max: p.yMax, minInterval: p.yStep, maxInterval: p.yStep, splitNumber: 10,
      axisLine: { show: true, onZero: false, lineStyle: { color: '#c8c8c8', width: 1 } },
      axisTick: { show: false },
      axisLabel: { ...LABEL_STYLE, margin: 6, showMinLabel: false, showMaxLabel: false, formatter: makeFormatter(p.yTicks, p.yLabels) },
      splitLine: { show: true, lineStyle: { color: '#e8e8e8', width: 1 } },
    });

    p.raw.forEach((arr, si) => {
      series.push({
        type: 'line', name: SERIES_NAMES[si] + ' raw', xAxisIndex: pi, yAxisIndex: pi,
        data: RAW_STEPS_K.map((k, i) => [k * 1000, arr[i]]),
        showSymbol: false, symbol: 'none', silent: true, z: 1,
        lineStyle: { color: COLORS[si], width: 1, opacity: 0.24 },
      });
    });
    p.smooth.forEach((arr, si) => {
      series.push({
        type: 'line', name: SERIES_NAMES[si], xAxisIndex: pi, yAxisIndex: pi,
        data: SMOOTH_STEPS_K.map((k, i) => [k * 1000, arr[i]]),
        showSymbol: false, symbol: 'none', silent: true, z: 3,
        lineStyle: { color: COLORS[si], width: 1.5 },
      });
    });
    series.push({
      type: 'scatter', xAxisIndex: pi, yAxisIndex: pi, symbolSize: 6, silent: true, z: 4,
      data: p.smooth.map((arr, si) => ({
        value: [SMOOTH_STEPS_K[SMOOTH_STEPS_K.length - 1] * 1000, arr[arr.length - 1]],
        itemStyle: { color: COLORS[si] },
      })),
    });

    graphic.push({
      type: 'text', x: p.titleX, y: p.titleY, z: 50,
      style: { text: p.title, fontSize: 16, fontFamily: 'Roboto', fill: '#333', align: 'center', verticalAlign: 'middle' },
    });
    const x0 = p.left + 1;
    const y0 = p.top + 1;
    graphic.push({
      type: 'rect', z: 100, shape: { x: x0, y: y0, width: 82, height: 50 },
      style: { fill: 'rgba(242,242,242,0.9)' },
    });
    SERIES_NAMES.forEach((name, si) => {
      const cy = y0 + 8.5 + 17 * si;
      graphic.push({ type: 'rect', z: 101, shape: { x: x0 + 4, y: cy - 5.5, width: 11, height: 11, r: 1 }, style: { fill: COLORS[si] } });
      graphic.push({
        type: 'polyline', z: 102,
        shape: { points: [[x0 + 6.5, cy], [x0 + 9, cy + 2.5], [x0 + 13, cy - 2.5]] },
        style: { stroke: '#fff', lineWidth: 1.5, fill: null },
      });
      graphic.push({
        type: 'circle', z: 101, shape: { cx: x0 + 25, cy, r: 4.5 },
        style: { stroke: COLORS[si], lineWidth: 1.2, fill: 'rgba(0,0,0,0)' },
      });
      graphic.push({
        type: 'text', z: 101, x: x0 + 34, y: cy,
        style: { text: name, fontSize: 8.5, fontFamily: 'Roboto', fill: '#333', verticalAlign: 'middle' },
      });
    });
  });

  CAPTIONS.forEach((c) => {
    graphic.push({
      type: 'text', x: c.x, y: c.y, z: 50,
      style: { text: c.text, fontSize: 23, fontFamily: 'Liberation Serif', fill: '#000', align: 'center', verticalAlign: 'middle' },
    });
  });

  return { animation: false, backgroundColor: '#ffffff', grid, xAxis, yAxis, series, graphic };
}

export default function App() {
  const ref = useRef<HTMLDivElement>(null);
  useEffect(() => {
    if (!ref.current) return;
    const chart = echarts.init(ref.current, undefined, { renderer: 'svg' });
    chart.setOption(buildOption() as any);
    return () => chart.dispose();
  }, []);
  return <div ref={ref} style={{ position: 'absolute', left: 0, top: 0, width: 1050, height: 823 }} />;
}
